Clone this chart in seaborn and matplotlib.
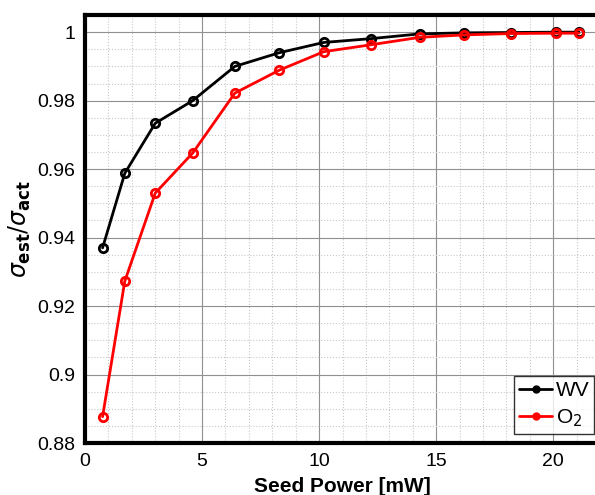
import numpy as np
import pandas as pd
import matplotlib
matplotlib.use("Agg")
import matplotlib.pyplot as plt
from matplotlib.ticker import MultipleLocator
import seaborn as sns

# Seed power values (mW) and normalised sigma ratios
seed_power = [0.75, 1.7, 3.0, 4.6, 6.4, 8.3, 10.2, 12.2, 14.3, 16.2, 18.2, 20.1, 21.1]
wv_ratio = [0.9370, 0.9588, 0.9734, 0.9800, 0.9900, 0.9940, 0.9970, 0.9981,
            0.9995, 0.9998, 0.9999, 1.0000, 1.0000]
o2_ratio = [0.8877, 0.9273, 0.9530, 0.9647, 0.9822, 0.9889, 0.9943, 0.9963,
            0.9985, 0.9992, 0.9996, 0.9997, 0.9997]
y_tick_labels = ["0.88", "0.9", "0.92", "0.94", "0.96", "0.98", "1"]
series_names = ["WV", "O$_2$"]
series_colors = ["black", "red"]

sns.set_style("white")
plt.rcParams["font.family"] = ["Liberation Sans", "DejaVu Sans"]
plt.rcParams["mathtext.fontset"] = "dejavusans"
plt.rcParams["text.color"] = "black"
plt.rcParams["axes.labelcolor"] = "black"
plt.rcParams["xtick.color"] = "black"
plt.rcParams["ytick.color"] = "black"

fig = plt.figure(figsize=(5.95, 4.95), dpi=100)
ax = fig.add_axes([0.1429, 0.105, 0.8655, 0.8646])

for name, values, color in zip(series_names, [wv_ratio, o2_ratio], series_colors):
    sns.lineplot(x=seed_power, y=values, ax=ax, color=color, label=name,
                 marker="o", markersize=6, markerfacecolor="none",
                 markeredgecolor=color, markeredgewidth=2, linewidth=2)

ax.set_xlim(0, 22)
ax.set_ylim(0.88, 1.005)
ax.xaxis.set_major_locator(MultipleLocator(5))
ax.xaxis.set_minor_locator(MultipleLocator(1))
ax.yaxis.set_minor_locator(MultipleLocator(0.005))
ax.set_yticks(np.arange(0.88, 1.001, 0.02))
ax.set_yticklabels(y_tick_labels)

ax.grid(which="major", color="#909090", linewidth=0.8, linestyle="-")
ax.grid(which="minor", color="#c8c8c8", linewidth=0.8, linestyle=":")
ax.set_axisbelow(True)

for side in ["left", "bottom", "top", "right"]:
    ax.spines[side].set_linewidth(3)
    ax.spines[side].set_color("black")

ax.tick_params(axis="both", which="major", labelsize=14, length=0, pad=7)
ax.tick_params(axis="both", which="minor", length=0)

# the reference clips this label at the bottom edge; keep it just inside
ax.set_xlabel("Seed Power [mW]", fontsize=15, fontweight="bold", labelpad=5)
ax.set_ylabel(r"$\sigma_{\mathbf{est}}/\sigma_{\mathbf{act}}$", fontsize=17, labelpad=3)

leg = ax.legend(loc="lower right", bbox_to_anchor=(0.999, 0.123, 0, 0),
                bbox_transform=fig.transFigure, fontsize=15, frameon=True,
                fancybox=False, edgecolor="black", handlelength=1.6,
                handletextpad=0.15, borderpad=0.25, labelspacing=0.35,
                borderaxespad=0)
leg.get_frame().set_linewidth(1)
for h in leg.legend_handles:
    h.set_markerfacecolor(h.get_color())
    h.set_markersize(4)

fig.savefig("out.png", dpi=100)
